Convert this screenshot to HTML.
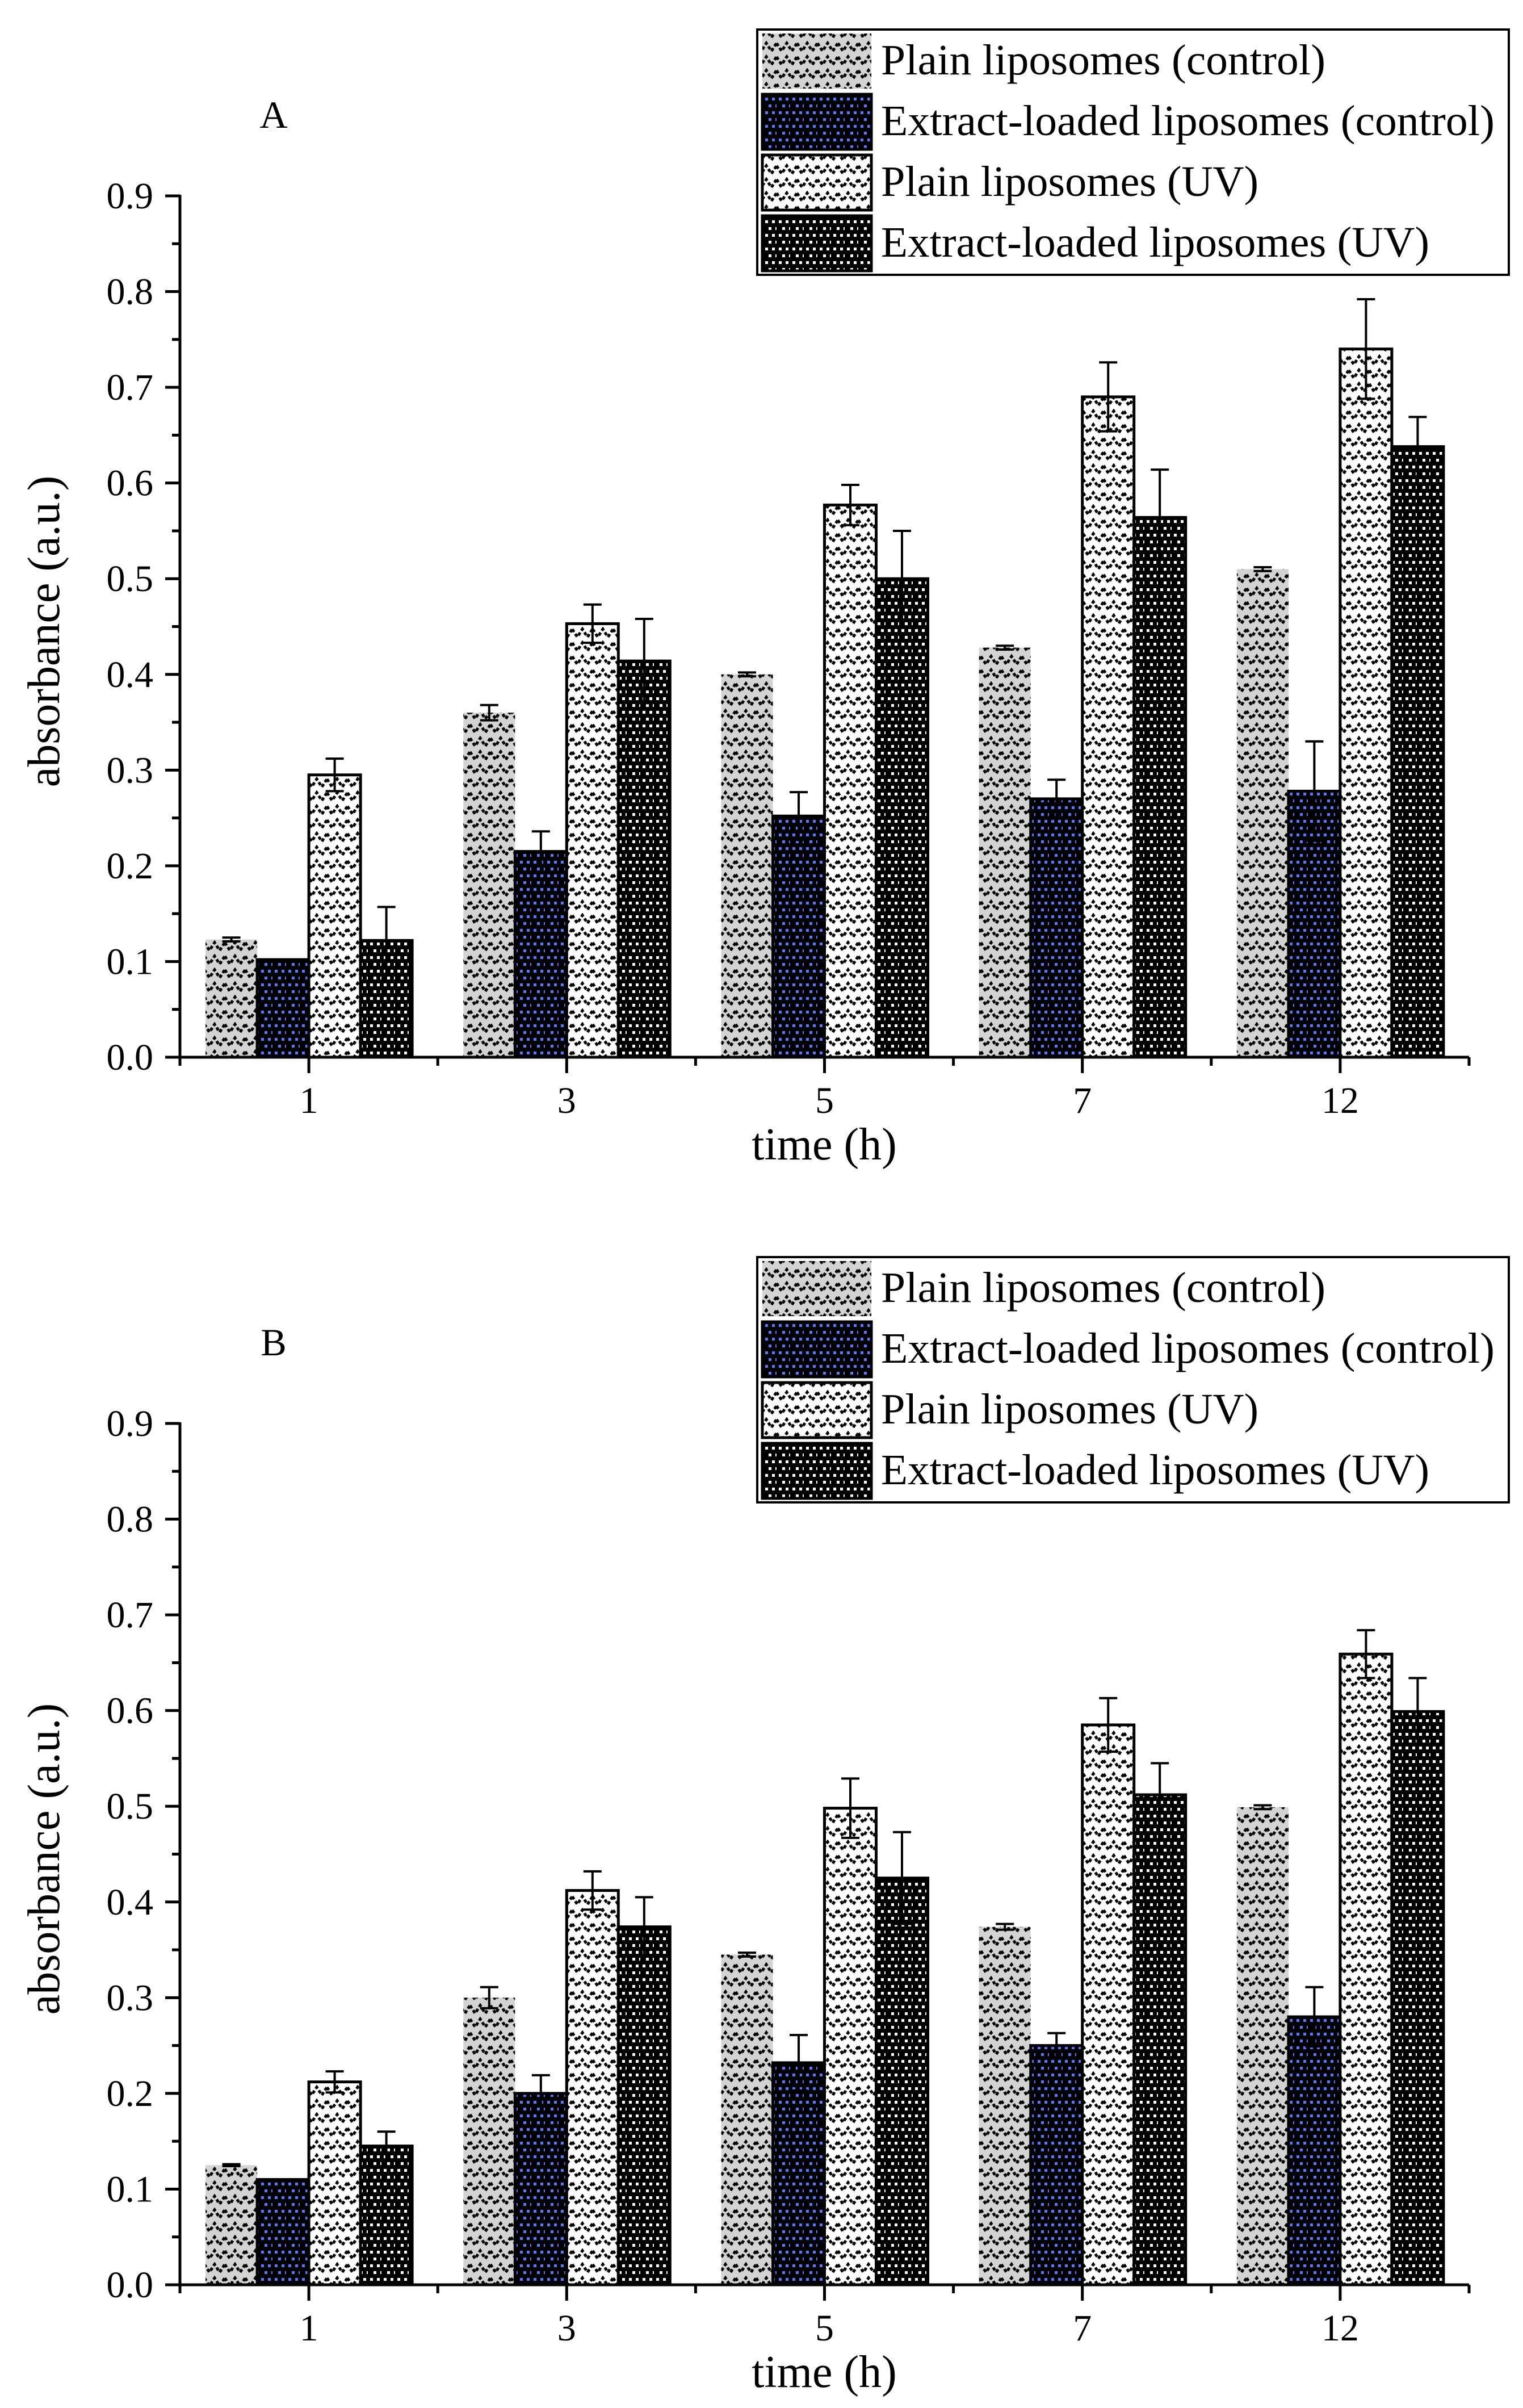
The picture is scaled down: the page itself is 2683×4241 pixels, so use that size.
<!DOCTYPE html>
<html><head><meta charset="utf-8">
<style>
html,body{margin:0;padding:0;background:#fff;}
svg{display:block;font-family:"Liberation Serif",serif;}
</style></head>
<body>
<svg id="fig" width="2683" height="4241" viewBox="0 0 2683 4241" xmlns="http://www.w3.org/2000/svg">
<defs>
<pattern id="pGray" width="36" height="24" patternUnits="userSpaceOnUse">
<rect width="36" height="24" fill="#d3d3d3"/>
<path d="M0 4 L9 18 L18 4 L27 18 L36 4" fill="none" stroke="#000" stroke-width="5" stroke-dasharray="6 4"/>
</pattern>
<pattern id="pWhite" width="36" height="24" patternUnits="userSpaceOnUse">
<rect width="36" height="24" fill="#fff"/>
<path d="M0 4 L9 18 L18 4 L27 18 L36 4" fill="none" stroke="#000" stroke-width="5" stroke-dasharray="6 4"/>
</pattern>
<pattern id="pBlue" width="24" height="24" patternUnits="userSpaceOnUse">
<rect width="24" height="24" fill="#000"/>
<rect x="4" y="4" width="5" height="5" fill="#5a78ff"/><rect x="16" y="4" width="5" height="5" fill="#5a78ff"/>
<rect x="10" y="16" width="5" height="5" fill="#5a78ff"/><rect x="22" y="16" width="5" height="5" fill="#5a78ff"/>
</pattern>
<pattern id="pBlack" width="24" height="24" patternUnits="userSpaceOnUse">
<rect width="24" height="24" fill="#000"/>
<rect x="4" y="4" width="5" height="5" fill="#fff"/><rect x="16" y="4" width="5" height="5" fill="#fff"/>
<rect x="10" y="16" width="5" height="5" fill="#fff"/><rect x="22" y="16" width="5" height="5" fill="#fff"/>
</pattern>
</defs>
</svg>
<script>
const categories = ["1","3","5","7","12"];
const yTicks = ["0.0","0.1","0.2","0.3","0.4","0.5","0.6","0.7","0.8","0.9"];
const seriesNames = ["Plain liposomes (control)","Extract-loaded liposomes (control)","Plain liposomes (UV)","Extract-loaded liposomes (UV)"];
const aPlainCtrl = [0.123,0.360,0.400,0.428,0.510];
const aPlainCtrlErr = [0.002,0.008,0.002,0.002,0.002];
const aExtCtrl = [0.102,0.215,0.252,0.270,0.278];
const aExtCtrlErr = [0.000,0.021,0.025,0.020,0.052];
const aPlainUV = [0.295,0.453,0.577,0.690,0.740];
const aPlainUVErr = [0.017,0.020,0.021,0.036,0.052];
const aExtUV = [0.122,0.414,0.500,0.564,0.638];
const aExtUVErr = [0.035,0.044,0.050,0.050,0.031];
const bPlainCtrl = [0.125,0.300,0.345,0.374,0.499];
const bPlainCtrlErr = [0.001,0.011,0.002,0.003,0.002];
const bExtCtrl = [0.110,0.200,0.232,0.250,0.280];
const bExtCtrlErr = [0.000,0.019,0.029,0.013,0.031];
const bPlainUV = [0.212,0.412,0.498,0.585,0.659];
const bPlainUVErr = [0.011,0.020,0.031,0.028,0.025];
const bExtUV = [0.145,0.374,0.425,0.512,0.599];
const bExtUVErr = [0.015,0.031,0.048,0.033,0.035];

const NS="http://www.w3.org/2000/svg";
const svg=document.getElementById('fig');
function mk(tag,attrs,parent){const e=document.createElementNS(NS,tag);for(const k in attrs)e.setAttribute(k,attrs[k]);(parent||svg).appendChild(e);return e;}
const fills=["url(#pGray)","url(#pBlue)","url(#pWhite)","url(#pBlack)"];
const strokes=["none","#000","#000","#000"];
const keys=["plain-control","extract-control","plain-uv","extract-uv"];
const legendLens=[783,1081,665,966];

function panel(off,label,vals,errs,pid){
  const g=mk('g',{});
  
  
  const x0=317,x1=2588,y0=1862+off,yTop=345+off;
  const pxPer=(y0-yTop)/0.9;
  const Y=v=>y0-v*pxPer;
  const band=(x1-x0)/categories.length;
  const X=i=>x0+band*(i+0.5);
  const bw=91;
  for(let s=0;s<4;s++){
    for(let i=0;i<categories.length;i++){
      const cx=X(i)+(s-1.5)*bw;
      const v=vals[s][i];
      const r=mk('rect',{x:cx-bw/2,y:Y(v),width:bw,height:y0-Y(v),fill:fills[s],stroke:strokes[s],'stroke-width':5},g);
      
      
      const e=errs[s][i];
      if(e>0){
        const eb=mk('g',{stroke:'#000','stroke-width':4},g);
        
        
        mk('line',{x1:cx,x2:cx,y1:Y(v+e),y2:Y(v-e)},eb);
        mk('line',{x1:cx-16,x2:cx+16,y1:Y(v+e),y2:Y(v+e)},eb);
        mk('line',{x1:cx-16,x2:cx+16,y1:Y(v-e),y2:Y(v-e)},eb);
      } else {
        const eb=mk('line',{x1:cx-16,x2:cx+16,y1:Y(v),y2:Y(v),stroke:'#000','stroke-width':3},g);
        
        
      }
    }
  }
  const ya=mk('line',{x1:x0,x2:x0,y1:yTop-2,y2:y0+3,stroke:'#000','stroke-width':5},g);
  
  
  const xa=mk('line',{x1:x0-3,x2:x1,y1:y0,y2:y0,stroke:'#000','stroke-width':5},g);
  
  
  for(let t=0;t<yTicks.length;t++){
    const v=parseFloat(yTicks[t]);
    mk('line',{x1:x0-26,x2:x0,y1:Y(v),y2:Y(v),stroke:'#000','stroke-width':5},g);
    if(t<yTicks.length-1) mk('line',{x1:x0-14,x2:x0,y1:Y(v+0.05),y2:Y(v+0.05),stroke:'#000','stroke-width':5},g);
    const tl=mk('text',{x:270,y:Y(v)+22,'font-size':66,'text-anchor':'end',fill:'#000'},g);
    tl.textContent=yTicks[t];
    
    
  }
  for(let i=0;i<=categories.length;i++){
    mk('line',{x1:x0+band*i,x2:x0+band*i,y1:y0,y2:y0+15,stroke:'#000','stroke-width':5},g);
  }
  for(let i=0;i<categories.length;i++){
    mk('line',{x1:X(i),x2:X(i),y1:y0,y2:y0+28,stroke:'#000','stroke-width':5},g);
    const tl=mk('text',{x:X(i),y:y0+98,'font-size':66,'text-anchor':'middle',fill:'#000'},g);
    tl.textContent=categories[i];
    
    
  }
  const xt=mk('text',{x:1452,y:y0+180,'font-size':80,'text-anchor':'middle',fill:'#000'},g);
  xt.textContent='time (h)';
  
  
  const yt=mk('text',{x:0,y:0,'font-size':80,'text-anchor':'middle',fill:'#000',transform:`translate(104,${1112+off}) rotate(-90)`},g);
  yt.textContent='absorbance (a.u.)';
  
  
  const pl=mk('text',{x:482,y:225+off,'font-size':68,'text-anchor':'middle',fill:'#000'},g);
  pl.textContent=label;
  
  
  const lg=mk('g',{},g);
  
  
  mk('rect',{x:1334,y:52+off,width:1324,height:432,fill:'#fff',stroke:'#000','stroke-width':4},lg);
  for(let s=0;s<4;s++){
    const ry=59+off+s*107;
    const le=mk('g',{},lg);
    
    
    mk('rect',{x:1343,y:ry,width:192,height:97,fill:fills[s],stroke:strokes[s],'stroke-width':5},le);
    const t=mk('text',{x:1552,y:ry+72,'font-size':76,fill:'#000',textLength:legendLens[s],lengthAdjust:'spacingAndGlyphs'},le);
    t.textContent=seriesNames[s];
  }
}
panel(0,'A',[aPlainCtrl,aExtCtrl,aPlainUV,aExtUV],[aPlainCtrlErr,aExtCtrlErr,aPlainUVErr,aExtUVErr],'a');
panel(2162,'B',[bPlainCtrl,bExtCtrl,bPlainUV,bExtUV],[bPlainCtrlErr,bExtCtrlErr,bPlainUVErr,bExtUVErr],'b');
</script>
</body></html>
